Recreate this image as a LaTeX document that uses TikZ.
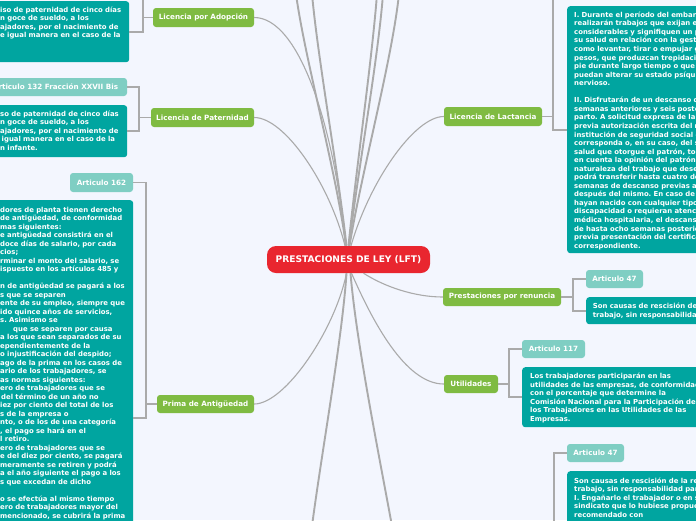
\documentclass[tikz,border=0pt]{standalone}
\usepackage{fontspec}
\setmainfont{DejaVu Sans}
\definecolor{bgc}{RGB}{243,246,254}
\definecolor{grn}{RGB}{127,187,66}
\definecolor{lteal}{RGB}{127,206,195}
\definecolor{dteal}{RGB}{0,165,160}
\definecolor{redc}{RGB}{233,38,47}
\definecolor{lnc}{RGB}{170,170,170}
\tikzset{
  box/.style={rounded corners=3pt, inner sep=0pt, draw=none, text=white,
    font=\bfseries\fontsize{7.2}{8.5}\selectfont},
  gbox/.style={box, fill=grn},
  lbox/.style={box, fill=lteal},
  dbox/.style={box, fill=dteal, anchor=north west},
  txt/.style={inner sep=0pt, text=white, font=\frenchspacing\bfseries\fontsize{6.9}{8.5}\selectfont,
    align=left, text width=330pt, anchor=base west},
  rootbox/.style={fill=redc, text=white, rounded corners=9pt, minimum width=163pt,
    minimum height=27pt, inner sep=0pt, font=\bfseries\fontsize{9.1}{11}\selectfont},
  conn/.style={draw=lnc, line width=1.1pt},
  connb/.style={draw=lnc, line width=1.9pt},
  elbow/.style={draw=lnc, line width=1.8pt},
}
\begin{document}
\frenchspacing
\begin{tikzpicture}[x=1pt,y=-1pt]
\useasboundingbox (0,0) rectangle (696,520);
\fill[bgc] (0,0) rectangle (696,520);
\begin{scope}
\clip (0,0) rectangle (696,520);
% central node
\node[rootbox] (root) at (348.5,259.5) {PRESTACIONES DE LEY (LFT)};
% main topics
\node[gbox, minimum width=101pt, minimum height=19pt] (adop) at (203.5,17.5) {Licencia por Adopción};
\node[gbox, minimum width=103pt, minimum height=19pt] (pat) at (202.5,117.5) {Licencia de Paternidad};
\node[gbox, minimum width=97pt, minimum height=18pt] (prima) at (205.5,404) {Prima de Antigüedad};
\node[gbox, minimum width=98pt, minimum height=19pt] (lact) at (493,116.5) {Licencia de Lactancia};
\node[gbox, minimum width=118pt, minimum height=18pt] (ren) at (502,297) {Prestaciones por renuncia};
\node[gbox, minimum width=54pt, minimum height=18pt] (util) at (471,384) {Utilidades};
% article labels
\node[lbox, minimum width=143pt, minimum height=18pt] (a132) at (55.5,87) {Articulo 132 Fracción XXVII Bis};
\node[lbox, minimum width=63pt, minimum height=19pt] (a162) at (101.5,182.5) {Articulo 162};
\node[lbox, minimum width=57pt, minimum height=18pt] (a47a) at (614.5,279) {Articulo 47};
\node[lbox, minimum width=63pt, minimum height=18pt] (a117) at (553.5,349) {Articulo 117};
\node[lbox, minimum width=57pt, minimum height=18pt] (a47b) at (595.5,453) {Articulo 47};
% text boxes
\node[dbox, minimum width=139pt, minimum height=61pt] (adtx) at (-10,1) {};
\node[txt] (adtxt) at (0,12) {iso de paternidad de cinco días\\n goce de sueldo, a los\\ajadores, por el nacimiento de\\e igual manera en el caso de la};
\node[dbox, minimum width=137pt, minimum height=52pt] (pattx) at (-10,105) {};
\node[txt] (pattxt) at (0,116) {so de paternidad de cinco días\\n goce de sueldo, a los\\ajadores, por el nacimiento de\\\hspace*{1.5pt}igual manera en el caso de la\\n infante.};
\node[dbox, minimum width=143pt, minimum height=436pt] (primatx) at (-10,200) {};
\node[txt] (primatxt) at (0,212.3) {dores de planta tienen derecho\\de antigüedad, de conformidad\\mas siguientes:\\e antigüedad consistirá en el\\doce días de salario, por cada\\cios;\\rminar el monto del salario, se\\ispuesto en los artículos 485 y\\\mbox{}\\n de antigüedad se pagará a los\\s que se separen\\ente de su empleo, siempre que\\ido quince años de servicios,\\s. Asimismo se\\\hspace*{13pt}que se separen por causa\\a los que sean separados de su\\ependientemente de la\\o injustificación del despido;\\ago de la prima en los casos de\\ario de los trabajadores, se\\as normas siguientes:\\ero de trabajadores que se\\\hspace*{1pt}del término de un año no\\iez por ciento del total de los\\s de la empresa o\\nto, o de los de una categoría\\, el pago se hará en el\\l retiro.\\ero de trabajadores que se\\e del diez por ciento, se pagará\\meramente se retiren y podrá\\a el año siguiente el pago a los\\s que excedan de dicho\\\mbox{}\\o se efectúa al mismo tiempo\\ero de trabajadores mayor del\\mencionado, se cubrirá la prima};
\node[dbox, minimum width=153pt, minimum height=247pt] (lacttx) at (567,6) {};
\node[txt, font=\frenchspacing\bfseries\fontsize{6.9}{8.55}\selectfont] (lacttxt) at (574,17.3) {I. Durante el período del embarazo, no\\realizarán trabajos que exijan esfuerzos\\considerables y signifiquen un peligro para\\su salud en relación con la gestación, tales\\como levantar, tirar o empujar grandes\\pesos, que produzcan trepidación, estar de\\pie durante largo tiempo o que actúen o\\puedan alterar su estado psíquico y\\nervioso.\\\mbox{}\\II. Disfrutarán de un descanso de seis\\semanas anteriores y seis posteriores al\\parto. A solicitud expresa de la trabajadora,\\previa autorización escrita del médico de la\\institución de seguridad social que le\\corresponda o, en su caso, del servicio de\\salud que otorgue el patrón, tomando\\en cuenta la opinión del patrón y la\\naturaleza del trabajo que desempeñe, se\\podrá transferir hasta cuatro de las seis\\semanas de descanso previas al parto para\\después del mismo. En caso de que los hijos\\hayan nacido con cualquier tipo de\\discapacidad o requieran atención\\médica hospitalaria, el descanso podrá ser\\de hasta ocho semanas posteriores al parto,\\previa presentación del certificado médico\\correspondiente.};
\node[dbox, minimum width=134pt, minimum height=27pt] (rentx) at (586,297) {};
\node[txt] (rentxt) at (592.7,308.7) {Son causas de rescisión de la relación de\\trabajo, sin responsabilidad para el patrón:};
\node[dbox, minimum width=198pt, minimum height=60pt] (utiltx) at (522,367) {};
\node[txt] (utiltxt) at (530,378.7) {Los trabajadores participarán en las\\utilidades de las empresas, de conformidad\\con el porcentaje que determine la\\Comisión Nacional para la Participación de\\los Trabajadores en las Utilidades de las\\Empresas.};
\node[dbox, minimum width=153pt, minimum height=150pt] (bottx) at (567,471) {};
\node[txt] (bottxt) at (574,483) {Son causas de rescisión de la relación de\\trabajo, sin responsabilidad para el patrón:\\I. Engañarlo el trabajador o en su caso, el\\sindicato que lo hubiese propuesto o\\recomendado con};
% off-canvas branch ends
\coordinate (adtop) at (143,-10);
\coordinate (lacttop) at (553,-10);
\coordinate (up1) at (296,-6);
\coordinate (up2) at (312,-6);
\coordinate (up3) at (377,-6);
\coordinate (up4) at (383,-6);
\coordinate (up5) at (399,-6);
\coordinate (dn1) at (312,526);
\coordinate (dn2) at (392,526);
% elbow connectors
\draw[elbow] (adtx.east) -| (adtop);
\draw[elbow] (adop.west) -- (adop.west -| adtop);
\path (pat.west) ++(-12,0) coordinate (pbar);
\draw[elbow] (a132.east) -| (pbar) |- (pattx.east);
\draw[elbow] (pbar) -- (pat.west);
\path (prima.west) ++(-11,0) coordinate (prbar);
\draw[elbow] (a162.east) -| (prbar) |- (primatx.east);
\draw[elbow] (prbar) -- (prima.west);
\draw[elbow] (lacttop) |- (lacttx.west);
\draw[elbow] (lact.east) -- (lact.east -| lacttop);
\path (ren.east) ++(12,0) coordinate (rbar);
\draw[elbow] (a47a.west) -| (rbar) |- (rentx.west);
\draw[elbow] (ren.east) -- (rbar);
\path (util.east) ++(11,0) coordinate (ubar);
\draw[elbow] (a117.west) -| (ubar) |- (utiltx.west);
\draw[elbow] (util.east) -- (ubar);
\draw[elbow] (a47b.west) -| ([xshift=-13pt]bottx.west) -- (bottx.west);
% main curves
\draw[conn] ([xshift=-3pt]root.north) .. controls (335,130) and (300,17.5) .. (adop.east);
\draw[conn] ([xshift=-3.5pt]root.north) .. controls (330,185) and (285,117.5) .. (pat.east);
\draw[conn] ([xshift=2.5pt]root.north) .. controls (370,180) and (415,116.5) .. (lact.west);
\draw[connb] ([xshift=-2.5pt]root.north) .. controls (336,170) and (305,60) .. (up1);
\draw[connb] ([xshift=-2pt]root.north) .. controls (338,170) and (318,60) .. (up2);
\draw[connb] (root.north) .. controls (356,170) and (372,60) .. (up3);
\draw[connb] ([xshift=0.5pt]root.north) .. controls (358,170) and (378,60) .. (up4);
\draw[connb] ([xshift=1pt]root.north) .. controls (362,170) and (392,60) .. (up5);
\draw[connb] ([xshift=-2pt]root.south) .. controls (342,340) and (322,450) .. (dn1);
\draw[connb] ([xshift=2pt]root.south) .. controls (356,340) and (378,450) .. (dn2);
\draw[conn] ([xshift=-2pt]root.south) .. controls (335,330) and (285,404) .. (prima.east);
\draw[conn] ([xshift=15pt]root.south) .. controls (385,287) and (415,297) .. (ren.west);
\draw[conn] ([xshift=3pt]root.south) .. controls (372,320) and (405,384) .. (util.west);
\end{scope}
\end{tikzpicture}
\end{document}
